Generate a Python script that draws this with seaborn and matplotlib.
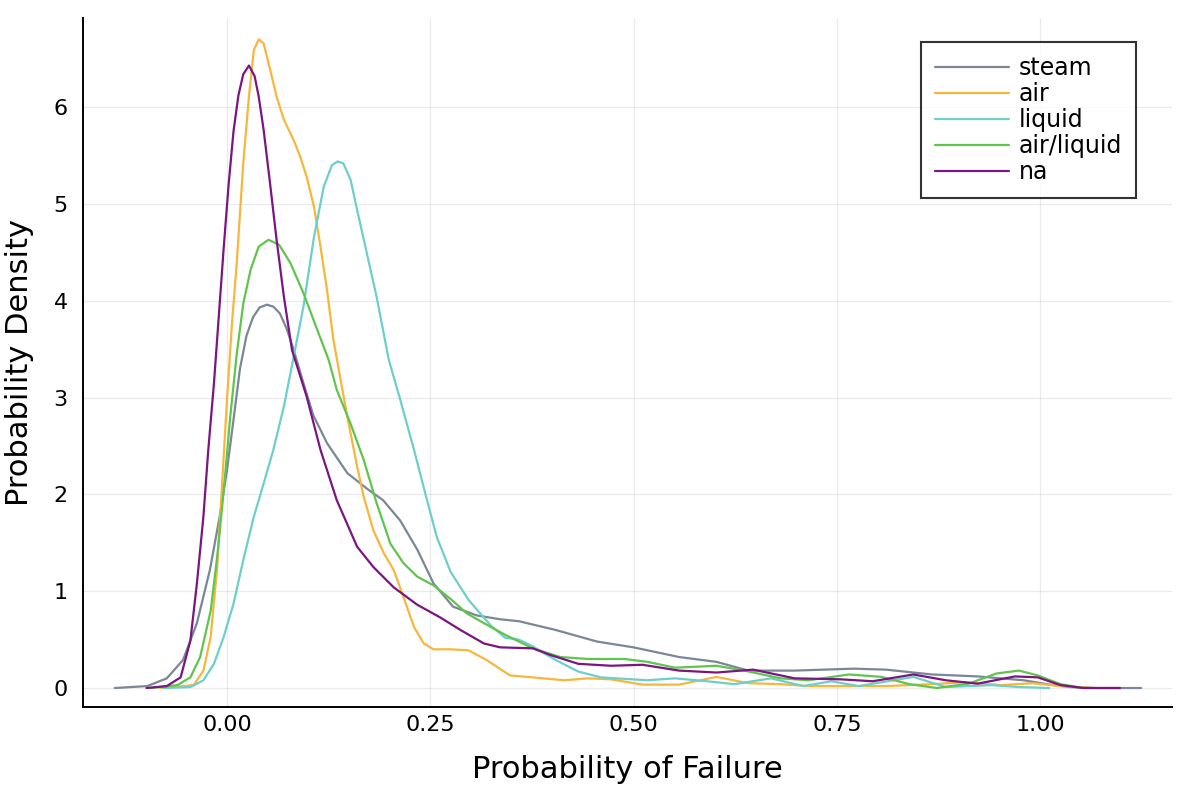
import numpy as np
import pandas as pd
import matplotlib
matplotlib.use("Agg")
import matplotlib.pyplot as plt
import seaborn as sns

# density curves
steam_x = [-0.138, -0.098, -0.074, -0.054, -0.037, -0.021, -0.009, 0.0, 0.008, 0.016, 0.024, 0.032, 0.040, 0.049,
           0.057, 0.065, 0.073, 0.081, 0.094, 0.106, 0.123, 0.148, 0.172, 0.192, 0.213, 0.234, 0.254, 0.278, 0.307,
           0.336, 0.359, 0.404, 0.455, 0.5, 0.556, 0.602, 0.641, 0.698, 0.771, 0.81, 0.867,
           0.923, 0.98, 1.008, 1.036, 1.07, 1.124]
steam_y = [0.0, 0.02, 0.1, 0.29, 0.67, 1.22, 1.77, 2.25, 2.77, 3.30, 3.64, 3.83, 3.93, 3.96,
           3.94, 3.87, 3.72, 3.52, 3.15, 2.82, 2.53, 2.22, 2.06, 1.94, 1.73, 1.43, 1.08, 0.84, 0.75,
           0.71, 0.69, 0.60, 0.48, 0.42, 0.32, 0.27, 0.18, 0.18, 0.20, 0.19, 0.14,
           0.12, 0.08, 0.04, 0.01, 0.0, 0.0]

air_x = [-0.082, -0.041, -0.029, -0.020, -0.012, -0.006, 0.0, 0.006, 0.012, 0.020, 0.027, 0.033,
         0.039, 0.045, 0.053, 0.061, 0.070, 0.082, 0.090, 0.098, 0.107, 0.115, 0.123, 0.131,
         0.148, 0.160, 0.168, 0.180, 0.193, 0.205, 0.217, 0.230, 0.242, 0.254, 0.274, 0.297,
         0.319, 0.348, 0.376, 0.415, 0.444, 0.472, 0.511, 0.556, 0.602, 0.641, 0.681, 0.715,
         0.754, 0.81, 0.867, 0.907, 0.952, 0.991, 1.025, 1.065]
air_y = [0.0, 0.03, 0.18, 0.53, 1.25, 2.11, 2.98, 3.75, 4.39, 5.42, 6.11, 6.59,
         6.70, 6.66, 6.39, 6.11, 5.87, 5.66, 5.49, 5.28, 4.97, 4.56, 4.11, 3.59,
         2.80, 2.29, 1.98, 1.63, 1.39, 1.22, 0.94, 0.63, 0.46, 0.40, 0.40, 0.39,
         0.29, 0.13, 0.11, 0.08, 0.10, 0.09, 0.035, 0.035, 0.115, 0.05, 0.04, 0.02,
         0.02, 0.02, 0.04, 0.06, 0.03, 0.05, 0.02, 0.0]

liquid_x = [-0.078, -0.045, -0.029, -0.016, -0.004, 0.008, 0.020, 0.033, 0.045, 0.057, 0.070, 0.082,
            0.094, 0.107, 0.119, 0.129, 0.136, 0.143, 0.152, 0.160, 0.172, 0.184, 0.199, 0.213,
            0.230, 0.246, 0.258, 0.275, 0.297, 0.325, 0.342, 0.359, 0.376, 0.404, 0.432, 0.460,
            0.517, 0.551, 0.590, 0.624, 0.669, 0.709, 0.743, 0.777, 0.844, 0.884, 0.940, 0.974,
            1.011]
liquid_y = [0.0, 0.01, 0.08, 0.25, 0.53, 0.87, 1.32, 1.77, 2.11, 2.46, 2.91, 3.42,
            3.94, 4.66, 5.18, 5.40, 5.44, 5.42, 5.25, 4.94, 4.49, 4.04, 3.39, 2.98,
            2.46, 1.94, 1.56, 1.20, 0.91, 0.64, 0.52, 0.50, 0.43, 0.29, 0.17, 0.11,
            0.08, 0.10, 0.07, 0.04, 0.10, 0.02, 0.07, 0.02, 0.115, 0.01, 0.03, 0.01,
            0.0]

airliquid_x = [-0.094, -0.061, -0.045, -0.033, -0.020, -0.012, -0.004, 0.004, 0.012, 0.020, 0.029, 0.039,
               0.051, 0.064, 0.078, 0.094, 0.111, 0.125, 0.135, 0.152, 0.168, 0.184, 0.201, 0.217,
               0.234, 0.254, 0.275, 0.295, 0.316, 0.342, 0.376, 0.410, 0.444, 0.489, 0.517, 0.551,
               0.602, 0.636, 0.681, 0.715, 0.765, 0.805, 0.839, 0.873, 0.912, 0.946, 0.974, 0.997,
               1.025, 1.053]
airliquid_y = [0.0, 0.03, 0.11, 0.32, 0.80, 1.36, 2.04, 2.80, 3.45, 3.97, 4.32, 4.56,
               4.63, 4.58, 4.39, 4.08, 3.70, 3.39, 3.08, 2.73, 2.36, 1.91, 1.49, 1.29,
               1.15, 1.06, 0.92, 0.77, 0.67, 0.55, 0.41, 0.32, 0.30, 0.30, 0.27, 0.21,
               0.23, 0.18, 0.10, 0.08, 0.14, 0.115, 0.04, 0.0, 0.045, 0.15, 0.18, 0.13,
               0.04, 0.0]

na_x = [-0.099, -0.074, -0.057, -0.045, -0.037, -0.029, -0.023, -0.016, -0.010, -0.004, 0.002, 0.008,
        0.014, 0.020, 0.027, 0.034, 0.039, 0.045, 0.053, 0.061, 0.070, 0.080, 0.098, 0.115,
        0.135, 0.160, 0.180, 0.205, 0.234, 0.262, 0.287, 0.316, 0.336, 0.376, 0.398, 0.432,
        0.472, 0.511, 0.556, 0.602, 0.647, 0.698, 0.754, 0.794, 0.844, 0.884, 0.923, 0.969,
        0.997, 1.025, 1.053, 1.098]
na_y = [0.0, 0.02, 0.11, 0.49, 1.08, 1.77, 2.46, 3.15, 3.85, 4.55, 5.20, 5.75,
        6.12, 6.34, 6.43, 6.32, 6.11, 5.77, 5.21, 4.63, 4.04, 3.49, 3.01, 2.46,
        1.94, 1.46, 1.25, 1.04, 0.86, 0.73, 0.60, 0.46, 0.42, 0.41, 0.34, 0.25,
        0.23, 0.24, 0.18, 0.16, 0.19, 0.10, 0.09, 0.07, 0.14, 0.08, 0.045, 0.12,
        0.11, 0.03, 0.0, 0.0]

labels = ["steam", "air", "liquid", "air/liquid", "na"]
colors = ["#7a8797", "#f7b63c", "#6dcfcb", "#60c54c", "#7b1582"]

frames = []
for name, xs, ys in zip(labels,
                        [steam_x, air_x, liquid_x, airliquid_x, na_x],
                        [steam_y, air_y, liquid_y, airliquid_y, na_y]):
    frames.append(pd.DataFrame({"x": xs, "density": ys, "cooling": name}))
df = pd.concat(frames, ignore_index=True)

sns.set_style("white")
plt.rcParams["font.family"] = ["DejaVu Sans"]
plt.rcParams["text.color"] = "black"
plt.rcParams["axes.labelcolor"] = "black"

fig = plt.figure(figsize=(11.88, 7.88), dpi=100)
ax = fig.add_axes([0.0699, 0.1028, 0.9166, 0.8742])

sns.lineplot(data=df, x="x", y="density", hue="cooling", hue_order=labels,
             palette=colors, estimator=None, sort=False, linewidth=1.6, ax=ax)

ax.set_xlim(-0.177, 1.162)
ax.set_ylim(-0.196, 6.92)
ax.set_xticks([0.0, 0.25, 0.5, 0.75, 1.0])
ax.set_xticklabels(["0.00", "0.25", "0.50", "0.75", "1.00"])
ax.set_yticks([0, 1, 2, 3, 4, 5, 6])
ax.grid(True, color="#000000", alpha=0.08, linewidth=0.9)
ax.tick_params(direction="in", length=7, width=1.3, labelsize=16, colors="black")
ax.tick_params(axis="x", pad=6)
ax.tick_params(axis="y", pad=11)
for side in ["top", "right"]:
    ax.spines[side].set_visible(False)
for side in ["left", "bottom"]:
    ax.spines[side].set_color("black")
    ax.spines[side].set_linewidth(1.4)

ax.set_xlabel("Probability of Failure", fontsize=22, labelpad=14)
ax.set_ylabel("Probability Density", fontsize=22, labelpad=14)

leg = ax.legend(loc="upper right", bbox_to_anchor=(0.967, 0.965), borderaxespad=0,
                fontsize=17, frameon=True, fancybox=False, borderpad=0.6,
                labelspacing=0.08, handlelength=3.1, handletextpad=0.42)
leg.get_frame().set_edgecolor("black")
leg.get_frame().set_linewidth(1.5)
for line in leg.get_lines():
    line.set_linewidth(1.6)

fig.savefig("out.png", dpi=100)
